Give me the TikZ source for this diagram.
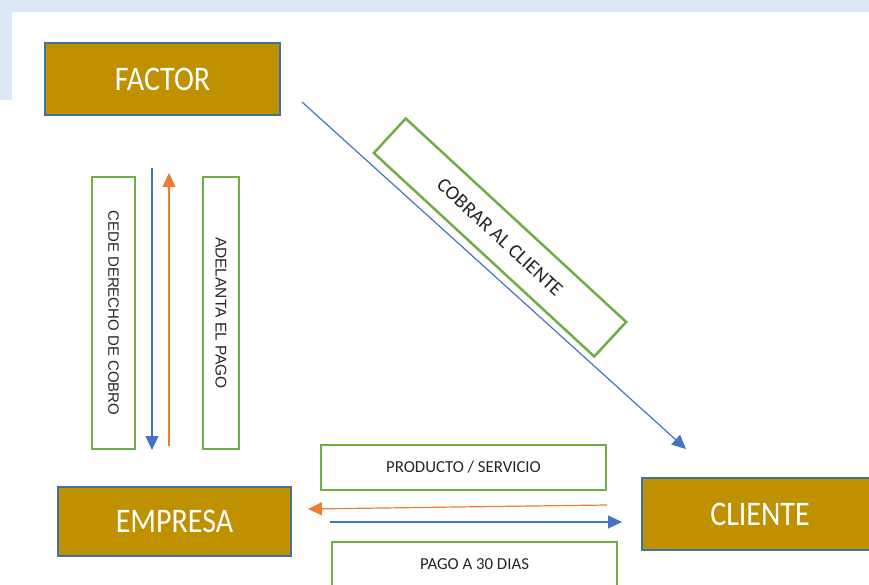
\documentclass[tikz,border=0pt]{standalone}
\usepackage{fontspec}
\setmainfont{Carlito}
\newfontfamily\arialfont{Liberation Sans}
\usetikzlibrary{arrows.meta}

\definecolor{gold}{HTML}{BF9000}
\definecolor{edgeblue}{HTML}{41719C}
\definecolor{boxgreen}{HTML}{70AD47}
\definecolor{flowblue}{HTML}{4472C4}
\definecolor{floworange}{HTML}{ED7D31}
\definecolor{wmblue}{HTML}{DDE7F5}
\newcommand{\tall}[1]{\scalebox{1}[1.15]{#1}}

\tikzset{
  actor/.style={draw=edgeblue, line width=2.5pt, fill=gold, text=white,
    font=\fontsize{30}{36}\selectfont, inner sep=0pt,
    minimum width=235pt, minimum height=72pt},
  tagbox/.style={draw=boxgreen, line width=2.5pt, fill=white, text=black!85,
    inner sep=0pt, font=\fontsize{16.8}{20}\selectfont},
  flow/.style={line width=1.2pt, -{Triangle[length=14pt,width=13pt]}},
}

\begin{document}
\begin{tikzpicture}[x=1pt,y=-1pt]
    \useasboundingbox (0,0) rectangle (869,585);
    \fill[wmblue] (0,0) rectangle (869,12);
    \fill[wmblue] (0,0) rectangle (12,100);

    % actors
    \node[actor] (factor) at (162.5,79) {\tall{FACTOR}};
    \node[actor, minimum width=233pt, minimum height=69pt] (empresa) at (174.5,521.5) {\tall{EMPRESA}};
    \node[actor, minimum width=236pt] (cliente) at (760,514) {\tall{CLIENTE}};

    % labels
    \node[tagbox, rotate=-90, minimum width=272pt, minimum height=43pt,
      font=\arialfont\fontsize{15}{18}\selectfont] (cede) at (113.5,313) {CEDE DERECHO DE COBRO};
    \node[tagbox, rotate=-90, minimum width=272pt, minimum height=36pt,
      font=\arialfont\fontsize{15.5}{18}\selectfont] (adelanta) at (221,313) {ADELANTA EL PAGO};
    \node[tagbox, rotate=-42.7, minimum width=300pt, minimum height=47pt,
      font=\fontsize{20}{24}\selectfont] (cobrar) at (500,237.5) {COBRAR AL CLIENTE};
    \node[tagbox, minimum width=285pt, minimum height=45pt] (producto) at (463.5,467.5) {PRODUCTO / SERVICIO};
    \node[tagbox, minimum width=285pt, minimum height=45pt] (pago) at (474.5,564.5) {PAGO A 30 DIAS};

    % flows
    \coordinate (cedeA) at (152,168);
    \coordinate (cedeB) at (152,450);
    \coordinate (adelA) at (169,446);
    \coordinate (adelB) at (169,173);
    \coordinate (cobrarA) at (302,102);
    \coordinate (cobrarB) at (686,449);
    \coordinate (prodA) at (607,505);
    \coordinate (prodB) at (308,509);
    \coordinate (pagoA) at (330,522);
    \coordinate (pagoB) at (622,522);

    \draw[flow, flowblue] (cedeA) -- (cedeB);
    \draw[flow, floworange] (adelA) -- (adelB);
    \draw[flow, flowblue] (cobrarA) -- (cobrarB);
    \draw[flow, floworange] (prodA) -- (prodB);
    \draw[flow, flowblue] (pagoA) -- (pagoB);
\end{tikzpicture}
\end{document}
